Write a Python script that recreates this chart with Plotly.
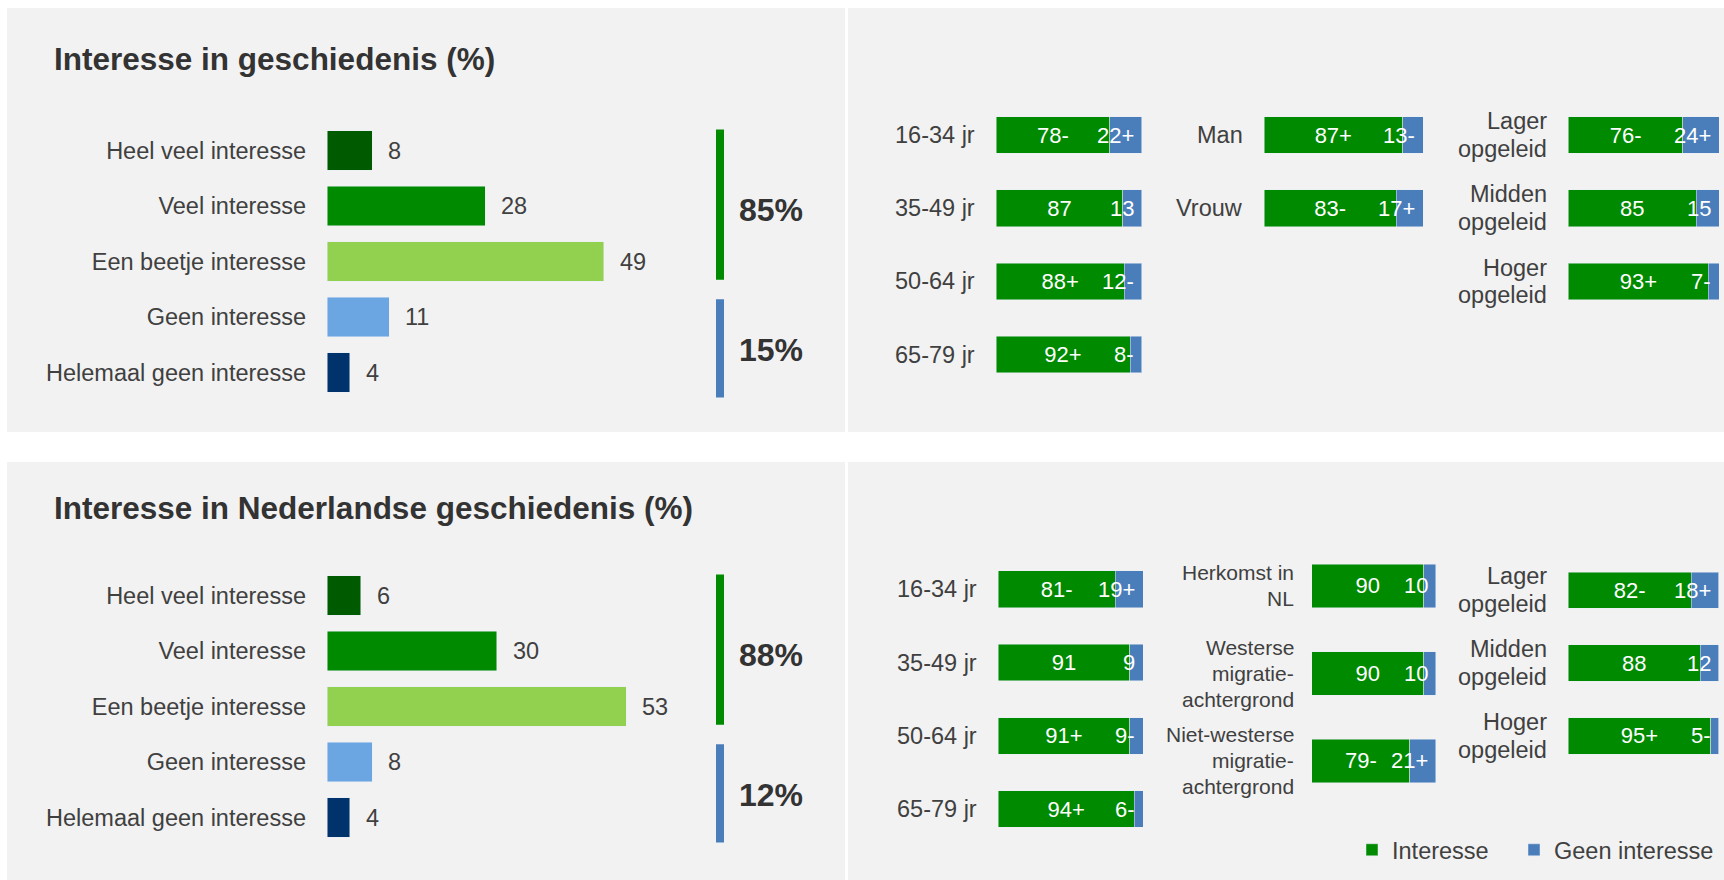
import plotly.graph_objects as go

W, H = 1724, 880
FONT = "Liberation Sans, Arial, Helvetica, sans-serif"
TEXT = "#404040"
TITLE = "#333333"
GREEN = "#008A00"
BLUE = "#4A7EBB"
PANEL = "#F2F2F2"

# ---------------- data ----------------
titles = ["Interesse in geschiedenis (%)", "Interesse in Nederlandse geschiedenis (%)"]

levels = ["Heel veel interesse", "Veel interesse", "Een beetje interesse",
          "Geen interesse", "Helemaal geen interesse"]
level_colors = ["#005A00", "#008A00", "#92D050", "#6CA6E2", "#00336B"]
hist_levels = [8, 28, 49, 11, 4]
nl_levels = [6, 30, 53, 8, 4]
hist_totals = [85, 15]
nl_totals = [88, 12]

ages = ["16-34 jr", "35-49 jr", "50-64 jr", "65-79 jr"]
genders = ["Man", "Vrouw"]
educ = ["Lager<br>opgeleid", "Midden<br>opgeleid", "Hoger<br>opgeleid"]
origins = ["Herkomst in<br>NL", "Westerse<br>migratie-<br>achtergrond",
           "Niet-westerse<br>migratie-<br>achtergrond"]

hist_age_int = [78, 87, 88, 92]
hist_age_int_sig = ["-", "", "+", "+"]
hist_age_geen = [22, 13, 12, 8]
hist_age_geen_sig = ["+", "", "-", "-"]

hist_gender_int = [87, 83]
hist_gender_int_sig = ["+", "-"]
hist_gender_geen = [13, 17]
hist_gender_geen_sig = ["-", "+"]

hist_edu_int = [76, 85, 93]
hist_edu_int_sig = ["-", "", "+"]
hist_edu_geen = [24, 15, 7]
hist_edu_geen_sig = ["+", "", "-"]

nl_age_int = [81, 91, 91, 94]
nl_age_int_sig = ["-", "", "+", "+"]
nl_age_geen = [19, 9, 9, 6]
nl_age_geen_sig = ["+", "", "-", "-"]

nl_origin_int = [90, 90, 79]
nl_origin_int_sig = ["", "", "-"]
nl_origin_geen = [10, 10, 21]
nl_origin_geen_sig = ["", "", "+"]

nl_edu_int = [82, 88, 95]
nl_edu_int_sig = ["-", "", "+"]
nl_edu_geen = [18, 12, 5]
nl_edu_geen_sig = ["+", "", "-"]

series_names = ["Interesse", "Geen interesse"]

# ---------------- helpers ----------------
def px(x):
    return x / W


def py(y):
    return 1 - y / H


fig = go.Figure()
layout = dict(shapes=[], annotations=[])
counter = [0]


def new_axes(x0, x1, y0, y1, xmax, cats, standoff, ticklabels=True):
    counter[0] += 1
    n = counter[0]
    sx = "" if n == 1 else str(n)
    layout["xaxis" + sx] = dict(domain=[px(x0), px(x1)], range=[0, xmax], visible=False,
                                fixedrange=True, anchor="y" + sx)
    layout["yaxis" + sx] = dict(domain=[py(y1), py(y0)], type="category",
                                categoryorder="array", categoryarray=cats,
                                tickmode="array", tickvals=cats, ticktext=cats,
                                showticklabels=ticklabels,
                                autorange="reversed", showgrid=False, zeroline=False,
                                showline=False, ticks="", ticklabelstandoff=standoff,
                                tickfont=dict(size=23.5, color=TEXT, family=FONT),
                                fixedrange=True, anchor="x" + sx)
    return "x" + sx, "y" + sx


def level_chart(vals, totals, top):
    xa, ya = new_axes(327, 327 + 5.65 * 60, top + 114.75, top + 392.25, 60, levels, 20)
    fig.add_trace(go.Bar(x=vals, y=levels, orientation="h", marker_color=level_colors,
                         width=0.703, xaxis=xa, yaxis=ya, showlegend=False,
                         hoverinfo="skip"))
    for v, c in zip(vals, levels):
        layout["annotations"].append(dict(x=v, y=c, xref=xa, yref=ya, text=str(v),
                                          xanchor="left", xshift=14, showarrow=False,
                                          font=dict(size=23.5, color=TEXT, family=FONT)))
    brackets = [(-0.38, 2.33, GREEN, 0.1), (2.68, 4.45, BLUE, 0.03)]
    for (b0, b1, col, adj), tot in zip(brackets, totals):
        layout["shapes"].append(dict(type="rect", xref="paper", yref=ya,
                                     x0=px(716), x1=px(724), y0=b0, y1=b1,
                                     fillcolor=col, line=dict(width=0)))
        layout["annotations"].append(dict(x=px(737), y=(b0 + b1) / 2 + adj, xref="paper",
                                          yref=ya, text="<b>%d%%</b>" % tot,
                                          xanchor="left", yanchor="middle",
                                          showarrow=False,
                                          font=dict(size=32, color=TITLE, family=FONT)))


def split_chart(cats, ints, isig, geens, gsig, x0, x1, y0, pitch, gap, legend=False,
                fsize=23.5, lsp=27.5):
    n = len(cats)
    xa, ya = new_axes(x0, x1, y0, y0 + pitch * n, 100, cats, gap, ticklabels=False)
    fig.add_trace(go.Bar(x=ints, y=cats, orientation="h", marker_color=GREEN,
                         width=0.5, name=series_names[0],
                         text=[f"{v}{s}" for v, s in zip(ints, isig)],
                         textposition="inside", insidetextanchor="middle",
                         textfont=dict(size=22, color="white", family=FONT),
                         xaxis=xa, yaxis=ya, showlegend=legend, legend="legend",
                         hoverinfo="skip"))
    fig.add_trace(go.Bar(x=geens, y=cats, orientation="h", marker_color=BLUE,
                         width=0.5, name=series_names[1],
                         xaxis=xa, yaxis=ya, showlegend=legend, legend="legend2",
                         hoverinfo="skip"))
    for a, g, s, c in zip(ints, geens, gsig, cats):
        layout["annotations"].append(dict(x=a + g, y=c, xref=xa, yref=ya, text=f"{g}{s}",
                                          xanchor="right", xshift=-6, showarrow=False,
                                          font=dict(size=22, color="white", family=FONT)))
    # category labels, line by line (tight line spacing like the original)
    for c in cats:
        lines = c.split("<br>")
        m = len(lines)
        for i, ln in enumerate(lines):
            layout["annotations"].append(dict(
                x=0, y=c, xref=xa, yref=ya, text=ln, xanchor="right", yanchor="middle",
                xshift=-gap, yshift=((m - 1) / 2 - i) * lsp, showarrow=False,
                font=dict(size=fsize, color=TEXT, family=FONT)))


# ---------------- panels ----------------
for (x0, x1) in [(7, 845), (848, 1724)]:
    for (y0, y1) in [(8, 432), (462, 880)]:
        layout["shapes"].append(dict(type="rect", xref="paper", yref="paper",
                                     x0=px(x0), x1=px(x1), y0=py(y1), y1=py(y0),
                                     fillcolor=PANEL, line=dict(width=0), layer="below"))

for t, y in zip(titles, [59, 508]):
    layout["annotations"].append(dict(x=px(52), y=py(y), xref="paper", yref="paper",
                                      text="<b>%s</b>" % t, xanchor="left",
                                      yanchor="middle", showarrow=False,
                                      font=dict(size=31.5, color=TITLE, family=FONT)))

# top block
level_chart(hist_levels, hist_totals, 8)
split_chart(ages, hist_age_int, hist_age_int_sig, hist_age_geen, hist_age_geen_sig,
            996, 1141.7, 98.4, 73.2, 19)
split_chart(genders, hist_gender_int, hist_gender_int_sig, hist_gender_geen,
            hist_gender_geen_sig, 1264, 1423.3, 98.4, 73.2, 19)
split_chart(educ, hist_edu_int, hist_edu_int_sig, hist_edu_geen, hist_edu_geen_sig,
            1568.3, 1719, 98.4, 73.2, 19)

# bottom block
level_chart(nl_levels, nl_totals, 453)
split_chart(ages, nl_age_int, nl_age_int_sig, nl_age_geen, nl_age_geen_sig,
            998, 1143, 552.6, 73.3, 19, legend=True)
split_chart(origins, nl_origin_int, nl_origin_int_sig, nl_origin_geen, nl_origin_geen_sig,
            1311.7, 1436, 542.2, 87.5, 16, fsize=21, lsp=26)
split_chart(educ, nl_edu_int, nl_edu_int_sig, nl_edu_geen, nl_edu_geen_sig,
            1568, 1718.5, 553.8, 72.85, 19)

legend_style = dict(orientation="h", y=py(850), xanchor="left", yanchor="middle",
                    font=dict(size=23.5, color=TEXT, family=FONT),
                    bgcolor="rgba(0,0,0,0)", itemclick=False, itemdoubleclick=False)

fig.update_layout(**layout)
fig.update_layout(
    width=W, height=H, margin=dict(l=0, r=0, t=0, b=0, pad=0),
    paper_bgcolor="white", plot_bgcolor="rgba(0,0,0,0)",
    barmode="stack",
    font=dict(family=FONT, color=TEXT, size=23),
    showlegend=True,
    legend=dict(x=px(1352), **legend_style),
    legend2=dict(x=px(1514), **legend_style),
)

fig.write_html("out.html", config={"displayModeBar": False},
               post_script="document.body.style.margin='0px';"
                           "document.body.style.overflow='hidden';")
